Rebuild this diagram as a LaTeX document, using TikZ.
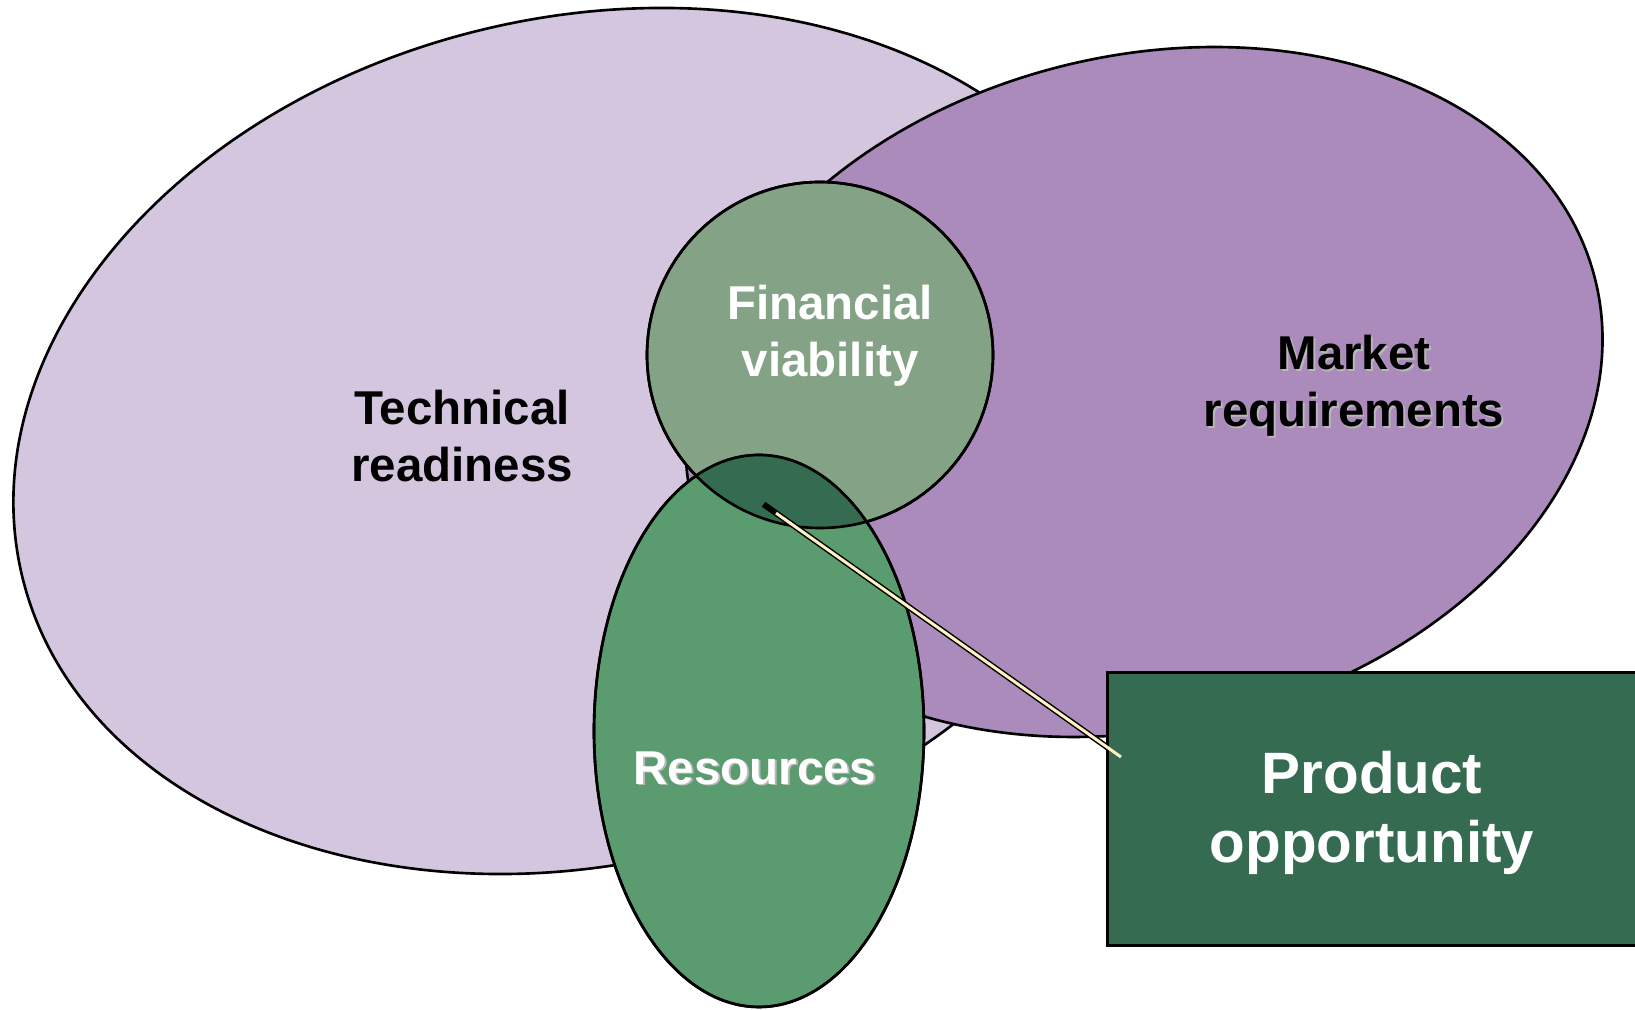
\documentclass[tikz,border=0pt]{standalone}
\usepackage{fontspec}
\setmainfont{Liberation Sans}

\definecolor{techclr}{HTML}{D5C6DF}
\definecolor{marketclr}{HTML}{AB8BBB}
\definecolor{finclr}{HTML}{84A286}
\definecolor{resclr}{HTML}{5A9C70}
\definecolor{oppclr}{HTML}{356B50}
\definecolor{pointerclr}{HTML}{FFF2C2}
\definecolor{shadowclr}{HTML}{B8B8B8}

\tikzset{
	blob/.style={draw=black, line width=0.75pt},
	tag/.style={font=\bfseries\fontsize{13.5}{16.3}\selectfont, align=center, inner sep=0pt},
	bigtag/.style={font=\bfseries\fontsize{16.6}{19.8}\selectfont, align=center, inner sep=0pt, text=white},
}

\begin{document}
\begin{tikzpicture}[x=0.01cm, y=-0.01cm]

\def\finR{173}
\def\shadowX{1.8}

% text with a soft grey copy underneath
\newcommand{\shadowtag}[4]{%
	\node [tag, text=shadowclr] (#1shadow) at ([shift={(\shadowX,\shadowX)}]#2) {#4};
	\node [tag, text=#3] (#1) at (#2) {#4};
}

\useasboundingbox (0,0) rectangle (1635,1010);

% technical readiness
\draw [blob, fill=techclr, rotate around={13.7:(581,441)}] (581,441) ellipse [x radius=575, y radius=423];
% market requirements
\draw [blob, fill=marketclr, rotate around={14:(1144,392)}] (1144,392) ellipse [x radius=465, y radius=336];
% financial viability
\draw [blob, fill=finclr] (820,355) circle [radius=\finR];
% resources
\draw [blob, fill=resclr] (759,731) ellipse [x radius=165, y radius=276];

% overlap of money and resources
\begin{scope}
	\clip (820,355) circle [radius=\finR];
	\fill [oppclr] (759,731) ellipse [x radius=165, y radius=276];
\end{scope}
\draw [blob] (820,355) circle [radius=\finR];
\draw [blob] (759,731) ellipse [x radius=165, y radius=276];

% pointer, black part
\coordinate (tip) at (766,506);
\coordinate (tail) at (1121,757);
\draw [black, line width=1.7pt, line cap=rect] (tip) -- (tail);

% product opportunity
\node [draw=black, line width=0.75pt, fill=oppclr, minimum width=5.4cm, minimum height=2.73cm, anchor=north west] (oppbox) at (1106,671) {};
\node [bigtag] (opp) at (1372,813) {Product\\opportunity};

% pointer, light part
\draw [pointerclr, line width=0.85pt, shorten <=3.5pt] (tip) -- (tail);

% labels
\node [tag] (tech) at (462,436) {Technical\\readiness};
\node [tag, text=white] (fin) at (830,336) {Financial\\viability};
\shadowtag{market}{1354,386}{black}{Market\\requirements}
\shadowtag{res}{755,768}{white}{Resources}

\end{tikzpicture}
\end{document}
